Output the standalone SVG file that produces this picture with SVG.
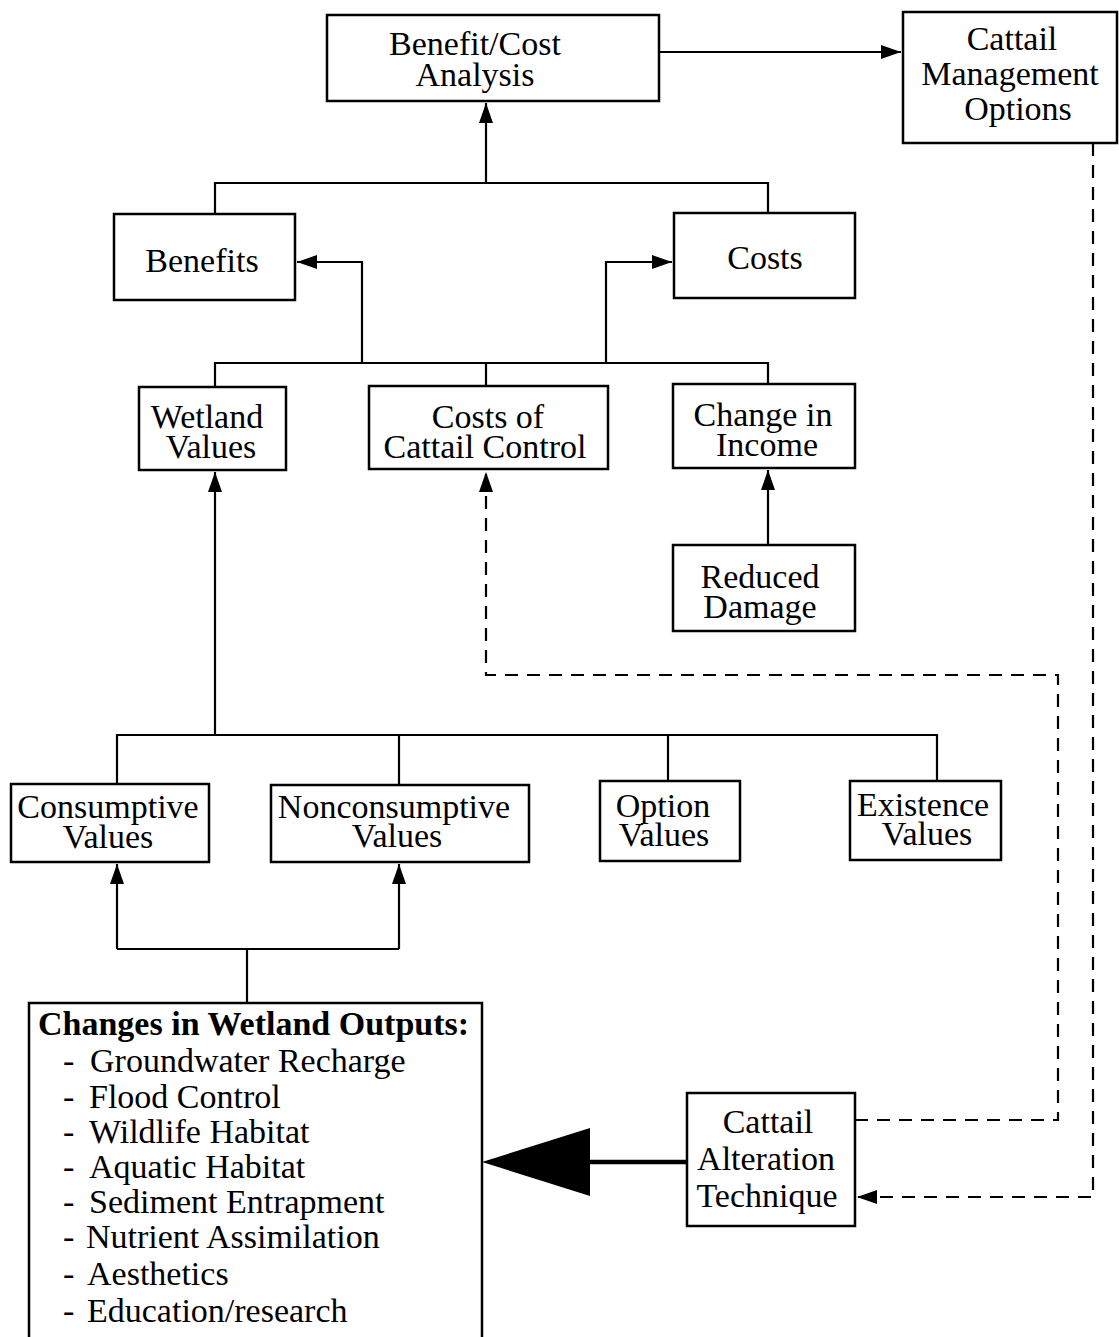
<svg xmlns="http://www.w3.org/2000/svg" width="1119" height="1337" viewBox="0 0 1119 1337">
<style>
.box{fill:#fff;stroke:#000;stroke-width:2.5}
.t{font-family:"Liberation Serif","Times New Roman",serif;font-size:34px;fill:#000;text-anchor:middle}
.l{font-family:"Liberation Serif","Times New Roman",serif;font-size:34px;fill:#000}
.b{font-weight:bold}
.c{fill:none;stroke:#000;stroke-width:2.2}
.d{fill:none;stroke:#000;stroke-width:2.2;stroke-dasharray:13 9}
</style>
<defs>
<marker id="ah" markerUnits="userSpaceOnUse" markerWidth="22" markerHeight="16" refX="20" refY="7" orient="auto">
<path d="M0,0 L20,7 L0,14 z" fill="#000"/>
</marker>
</defs>
<rect width="1119" height="1337" fill="#fff"/>
<g id="connectors">
<path class="c" d="M486,183 V103" marker-end="url(#ah)"/>
<path class="c" d="M215,214 V183 H768 V213"/>
<path class="c" d="M659,52 H901" marker-end="url(#ah)"/>
<path class="c" d="M215,387 V363 H768 V384"/>
<path class="c" d="M486,363 V386"/>
<path class="c" d="M362,363 V262 H297" marker-end="url(#ah)"/>
<path class="c" d="M606,363 V262 H672" marker-end="url(#ah)"/>
<path class="c" d="M215,735 V472" marker-end="url(#ah)"/>
<path class="c" d="M117,784 V735 H937 V781"/>
<path class="c" d="M399,735 V785"/>
<path class="c" d="M668,735 V781"/>
<path class="c" d="M768,545 V470" marker-end="url(#ah)"/>
<path class="c" d="M247,1003 V949"/>
<path class="c" d="M117,949 H399"/>
<path class="c" d="M117,949 V864" marker-end="url(#ah)"/>
<path class="c" d="M399,949 V864" marker-end="url(#ah)"/>
<path class="d" d="M855,1120 H1058 V675 H486 V472" marker-end="url(#ah)"/>
<path class="d" d="M1093,143 V1197 H857" marker-end="url(#ah)"/>
<path fill="none" stroke="#000" stroke-width="4.5" d="M687,1162 H588"/>
<polygon points="482,1162 590,1128 590,1196" fill="#000"/>
</g>
<g id="benefit-cost-analysis">
<rect class="box" x="327" y="15" width="332" height="86"/>
<text class="t" x="475" y="55">Benefit/Cost</text>
<text class="t" x="475" y="86">Analysis</text>
</g>
<g id="cattail-management-options">
<rect class="box" x="903" y="12" width="214" height="131"/>
<text class="t" x="1012" y="50">Cattail</text>
<text class="t" x="1010" y="85">Management</text>
<text class="t" x="1018" y="120">Options</text>
</g>
<g id="benefits">
<rect class="box" x="114" y="214" width="181" height="86"/>
<text class="t" x="202" y="272">Benefits</text>
</g>
<g id="costs">
<rect class="box" x="674" y="213" width="181" height="85"/>
<text class="t" x="765" y="269">Costs</text>
</g>
<g id="wetland-values">
<rect class="box" x="139" y="387" width="147" height="83"/>
<text class="t" x="207" y="428">Wetland</text>
<text class="t" x="211" y="458">Values</text>
</g>
<g id="costs-of-cattail-control">
<rect class="box" x="369" y="386" width="239" height="83"/>
<text class="t" x="488" y="428">Costs of</text>
<text class="t" x="485" y="458">Cattail Control</text>
</g>
<g id="change-in-income">
<rect class="box" x="673" y="384" width="182" height="84"/>
<text class="t" x="763" y="426">Change in</text>
<text class="t" x="767" y="456">Income</text>
</g>
<g id="reduced-damage">
<rect class="box" x="673" y="545" width="182" height="86"/>
<text class="t" x="760" y="588">Reduced</text>
<text class="t" x="760" y="618">Damage</text>
</g>
<g id="consumptive-values">
<rect class="box" x="11" y="784" width="198" height="78"/>
<text class="t" x="108" y="818">Consumptive</text>
<text class="t" x="108" y="848">Values</text>
</g>
<g id="nonconsumptive-values">
<rect class="box" x="271" y="785" width="258" height="77"/>
<text class="t" x="394" y="818">Nonconsumptive</text>
<text class="t" x="397" y="847">Values</text>
</g>
<g id="option-values">
<rect class="box" x="600" y="781" width="140" height="80"/>
<text class="t" x="663" y="817">Option</text>
<text class="t" x="664" y="846">Values</text>
</g>
<g id="existence-values">
<rect class="box" x="850" y="781" width="151" height="79"/>
<text class="t" x="923" y="816">Existence</text>
<text class="t" x="927" y="845">Values</text>
</g>
<g id="changes-in-wetland-outputs">
<rect class="box" x="29" y="1003" width="453" height="345"/>
<text class="l b" x="38" y="1035">Changes in Wetland Outputs:</text>
<text class="l" x="63" y="1072">- <tspan x="90">Groundwater Recharge</tspan></text>
<text class="l" x="63" y="1108">- <tspan x="89">Flood Control</tspan></text>
<text class="l" x="63" y="1143">- <tspan x="89">Wildlife Habitat</tspan></text>
<text class="l" x="63" y="1178">- <tspan x="89">Aquatic Habitat</tspan></text>
<text class="l" x="63" y="1213">- <tspan x="89">Sediment Entrapment</tspan></text>
<text class="l" x="63" y="1248">- <tspan x="86">Nutrient Assimilation</tspan></text>
<text class="l" x="63" y="1285">- <tspan x="87">Aesthetics</tspan></text>
<text class="l" x="63" y="1322">- <tspan x="87">Education/research</tspan></text>
</g>
<g id="cattail-alteration-technique">
<rect class="box" x="687" y="1093" width="168" height="133"/>
<text class="t" x="768" y="1133">Cattail</text>
<text class="t" x="766" y="1170">Alteration</text>
<text class="t" x="767" y="1207">Technique</text>
</g>
</svg>
